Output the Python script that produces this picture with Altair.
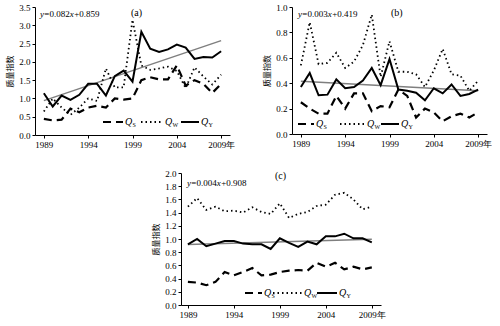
import altair as alt
import pandas as pd

years = list(range(1989, 2010))
tick_years = [1989, 1994, 1999, 2004, 2009]

# Panel (a)
a_qs = [0.44, 0.40, 0.42, 0.72, 0.62, 0.75, 0.80, 0.75, 1.00, 0.97, 1.00, 1.50, 1.58, 1.52, 1.52, 1.90, 1.35, 1.50, 1.40, 1.15, 1.40]
a_qw = [0.64, 1.00, 0.75, 0.55, 0.75, 1.00, 0.93, 1.82, 1.30, 1.30, 3.15, 1.90, 1.78, 1.82, 1.87, 1.75, 1.28, 1.85, 1.60, 1.38, 1.65]
a_qy = [1.14, 0.78, 1.08, 0.96, 1.10, 1.40, 1.40, 1.08, 1.61, 1.76, 1.46, 2.82, 2.36, 2.27, 2.34, 2.47, 2.39, 2.08, 2.13, 2.12, 2.29]
a_trend = [0.94, 2.58]
a_eq = ["0.082", "0.859"]

# Panel (b)
b_qs = [0.25, 0.20, 0.16, 0.16, 0.30, 0.20, 0.32, 0.32, 0.18, 0.22, 0.21, 0.35, 0.30, 0.13, 0.20, 0.17, 0.10, 0.14, 0.16, 0.13, 0.17]
b_qw = [0.54, 0.88, 0.55, 0.56, 0.64, 0.52, 0.57, 0.70, 0.94, 0.45, 0.73, 0.49, 0.49, 0.47, 0.37, 0.50, 0.67, 0.47, 0.46, 0.34, 0.42]
b_qy = [0.37, 0.48, 0.305, 0.31, 0.43, 0.36, 0.37, 0.42, 0.52, 0.385, 0.59, 0.35, 0.34, 0.325, 0.265, 0.36, 0.32, 0.39, 0.30, 0.315, 0.35]
b_trend = [0.415, 0.34]
b_eq = ["0.003", "0.419"]

# Panel (c)
c_qs = [0.35, 0.34, 0.30, 0.35, 0.50, 0.45, 0.50, 0.56, 0.45, 0.46, 0.50, 0.52, 0.53, 0.52, 0.64, 0.58, 0.64, 0.54, 0.58, 0.54, 0.57]
c_qw = [1.49, 1.62, 1.44, 1.49, 1.42, 1.43, 1.40, 1.48, 1.41, 1.38, 1.54, 1.32, 1.38, 1.41, 1.50, 1.52, 1.67, 1.70, 1.60, 1.45, 1.49]
c_qy = [0.92, 1.00, 0.89, 0.93, 0.97, 0.97, 0.93, 0.92, 0.92, 0.85, 1.01, 0.94, 0.88, 0.96, 0.92, 1.04, 1.04, 1.08, 1.01, 1.01, 0.95]
c_trend = [0.915, 0.995]
c_eq = ["0.004", "0.908"]

SERIF = "Liberation Serif"
CJK = "Noto Sans CJK SC"


def txt(one, x, y, s, size=9, style="normal", baseline="top"):
    return one.mark_text(font=SERIF, fontSize=size, fontStyle=style, align="left",
                         baseline=baseline, color="black").encode(
        x=alt.value(x), y=alt.value(y), text=alt.value(s))


def panel(qs, qw, qy, trend, eq, label, ymax, ystep, width, height, xdomain,
          leg, eq_pos, label_pos):
    df = pd.DataFrame({"year": years, "QS": qs, "QW": qw, "QY": qy})
    tdf = pd.DataFrame({"year": [1989, 2009], "v": trend})
    nsteps = int(round(ymax / ystep))
    yvals = [round(i * ystep, 2) for i in range(nsteps + 1)]
    xenc = alt.X("year:Q", scale=alt.Scale(domain=xdomain, nice=False, zero=False),
                 axis=alt.Axis(values=tick_years, format="d", title=None, grid=False,
                               labelExpr="datum.value == 2009 ? '2009年' : datum.label",
                               labelFont=SERIF, labelFontSize=9, tickSize=3,
                               domainColor="black", tickColor="black", labelColor="black",
                               labelPadding=2))

    def yenc(field):
        return alt.Y(field, scale=alt.Scale(domain=[0, ymax], nice=False),
                     axis=alt.Axis(values=yvals, format=".1f", title="质量指数", grid=False,
                                   titleFont=CJK, titleFontSize=8, titleFontWeight="normal",
                                   titleColor="black", labelFont=SERIF, labelFontSize=9,
                                   tickSize=3, domainColor="black", tickColor="black",
                                   labelColor="black", titlePadding=4, labelPadding=2))
    base = alt.Chart(df)
    l_qs = base.mark_line(color="black", strokeWidth=2.2, strokeDash=[8, 5]).encode(x=xenc, y=yenc("QS:Q"))
    l_qw = base.mark_line(color="black", strokeWidth=1.8, strokeDash=[1.5, 3]).encode(x=xenc, y=yenc("QW:Q"))
    l_qy = base.mark_line(color="black", strokeWidth=2).encode(x=xenc, y=yenc("QY:Q"))
    l_tr = alt.Chart(tdf).mark_line(color="#7f7f7f", strokeWidth=1.5).encode(x=xenc, y=yenc("v:Q"))

    layers = [l_tr, l_qs, l_qw, l_qy]
    one = alt.Chart(pd.DataFrame({"k": [0]}))
    # regression equation, with italic y and x
    ex, ey = eq_pos
    layers.append(txt(one, ex, ey, "y", style="italic"))
    layers.append(txt(one, ex + 4.3, ey, "=" + eq[0]))
    layers.append(txt(one, ex + 29.8, ey, "x", style="italic"))
    layers.append(txt(one, ex + 34.2, ey, "+" + eq[1]))
    # panel label
    layers.append(txt(one, label_pos[0], label_pos[1], label, size=10))
    # legend
    styles = [([8, 5], 2.2, "S"), ([1.5, 3], 1.8, "W"), (None, 2, "Y")]
    ly = leg["y"]
    for (x0, x1, xq), (dash, sw, sub) in zip(leg["items"], styles):
        kw = dict(color="black", strokeWidth=sw)
        if dash:
            kw["strokeDash"] = dash
        layers.append(one.mark_rule(**kw).encode(x=alt.value(x0), x2=alt.value(x1), y=alt.value(ly)))
        layers.append(txt(one, xq, ly, "Q", size=10, style="italic", baseline="middle"))
        layers.append(txt(one, xq + 7.5, ly + 3, sub, size=6, baseline="middle"))
    return alt.layer(*layers).properties(width=width, height=height)


pa = panel(a_qs, a_qw, a_qy, a_trend, a_eq, "(a)", 3.5, 0.5, 195, 128, [1988, 2010],
           {"y": 115, "items": [(68, 88, 90), (106, 128, 130), (146, 164, 166)]}, (5, 3), (96, 1))
pb = panel(b_qs, b_qw, b_qy, b_trend, b_eq, "(b)", 1.0, 0.2, 195, 127, [1988, 2010],
           {"y": 117, "items": [(6, 22, 24), (48, 73, 75), (89, 107, 109)]}, (6, 3), (99, 1))
pc = panel(c_qs, c_qw, c_qy, c_trend, c_eq, "(c)", 2.0, 0.2, 200, 132, [1988.25, 2010],
           {"y": 120, "items": [(64, 81, 83), (92, 121, 123), (136, 156, 158)]}, (6, 6), (94, -2))

spacer = alt.Chart(pd.DataFrame({"a": [0]})).mark_point(opacity=0).encode(
    x=alt.X("a:Q", axis=None), y=alt.Y("a:Q", axis=None)).properties(width=117, height=1)

top = alt.hconcat(pa, pb, spacing=28)
bottom = alt.hconcat(spacer, pc, spacing=0)
chart = alt.vconcat(top, bottom, spacing=20).properties(
    padding={"left": 6, "top": 3, "right": 0, "bottom": 0},
    background="white"
).configure_view(stroke=None)

chart.save("out.html", embed_options={"renderer": "svg", "actions": False})
